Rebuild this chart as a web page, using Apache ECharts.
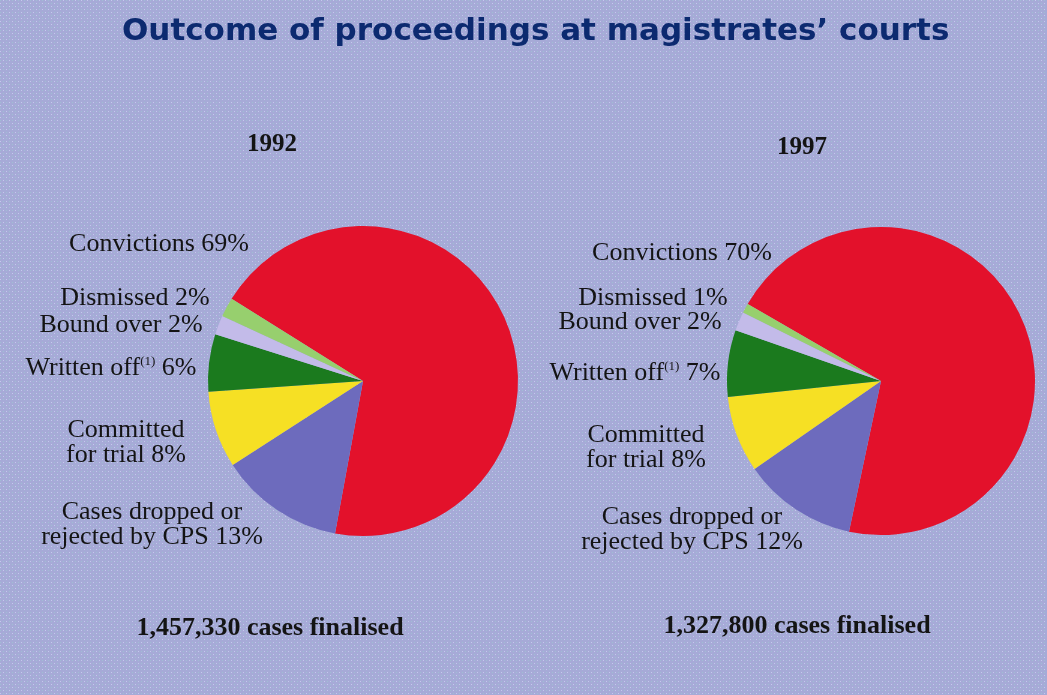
<!DOCTYPE html>
<html>
<head>
<meta charset="utf-8">
<script src="https://cdn.jsdelivr.net/npm/echarts@6/dist/echarts.min.js"></script>
<style>
  html, body { margin: 0; padding: 0; background: #ffffff; }
  #main { width: 1047px; height: 695px; }
</style>
</head>
<body>
<div id="main"></div>
<script>
  // data
  var categories = ['Convictions', 'Cases dropped or\nrejected by CPS', 'Committed\nfor trial', 'Written off', 'Bound over', 'Dismissed']
  var values1992 = [69, 13, 8, 6, 2, 2]
  var values1997 = [70, 12, 8, 7, 2, 1]
  var years = ['1992', '1997']
  var totals = ['1,457,330 cases finalised', '1,327,800 cases finalised']
  var sliceColors = ['#e3112b', '#6d6bbd', '#f6e024', '#1b7a1e', '#c3bbe9', '#97cf6e']

  // where each slice label sits (page px), per pie
  var labelPos1992 = [[159, 244], [152, 525], [126, 443], [111, 368], [121, 325], [135, 298]]
  var labelPos1997 = [[682, 253], [692, 530], [646, 448], [635, 373], [640, 322], [653, 298]]

  // textured lavender background
  function makePattern() {
    var c = document.createElement('canvas')
    c.width = 6
    c.height = 6
    var ctx = c.getContext('2d')
    ctx.fillStyle = '#a6aad7'
    ctx.fillRect(0, 0, 6, 6)
    ctx.fillStyle = '#9fbfd2'
    ctx.fillRect(0, 0, 1, 1)
    ctx.fillRect(3, 3, 1, 1)
    ctx.fillStyle = '#c6c7ee'
    ctx.fillRect(0, 3, 1, 1)
    ctx.fillRect(3, 0, 1, 1)
    return c
  }

  function buildData(vals) {
    return categories.map(function (name, i) {
      return { name: name, value: vals[i], itemStyle: { color: sliceColors[i] } }
    })
  }

  function pieSeries(vals, center, radius, startAngle, pos) {
    return {
      type: 'pie',
      center: center,
      radius: radius,
      startAngle: startAngle,
      clockwise: true,
      avoidLabelOverlap: false,
      silent: true,
      emphasis: { disabled: true },
      data: buildData(vals),
      itemStyle: { borderWidth: 0 },
      labelLine: { show: false },
      label: {
        show: true,
        position: 'outside',
        fontFamily: 'Liberation Serif',
        fontSize: 26,
        lineHeight: 25,
        color: '#141414',
        align: 'center',
        formatter: function (p) {
          if (p.dataIndex === 3) {
            return p.name + '{sup|(1)} ' + p.value + '%'
          }
          return p.name + ' ' + p.value + '%'
        },
        rich: {
          sup: { fontFamily: 'Liberation Serif', fontSize: 13, color: '#141414', verticalAlign: 'top', padding: [0, 0, 10, 0] }
        }
      },
      labelLayout: function (params) {
        var p = pos[params.dataIndex]
        return { x: p[0], y: p[1], align: 'center', verticalAlign: 'middle' }
      }
    }
  }

  var chart = echarts.init(document.getElementById('main'))
  chart.setOption({
    animation: false,
    backgroundColor: { image: makePattern(), repetition: 'repeat' },
    title: {
      text: 'Outcome of proceedings at magistrates\u2019 courts',
      left: 117,
      top: 11,
      textStyle: {
        fontFamily: 'DejaVu Sans',
        fontWeight: 'bold',
        fontSize: 31,
        color: '#0c2a70'
      }
    },
    graphic: [
      { type: 'text', x: 272, y: 145, style: { text: years[0], align: 'center', verticalAlign: 'middle', font: 'bold 25px "Liberation Serif"', fill: '#141414' } },
      { type: 'text', x: 802, y: 148, style: { text: years[1], align: 'center', verticalAlign: 'middle', font: 'bold 25px "Liberation Serif"', fill: '#141414' } },
      { type: 'text', x: 270, y: 628, style: { text: totals[0], align: 'center', verticalAlign: 'middle', font: 'bold 26px "Liberation Serif"', fill: '#141414' } },
      { type: 'text', x: 797, y: 626, style: { text: totals[1], align: 'center', verticalAlign: 'middle', font: 'bold 26px "Liberation Serif"', fill: '#141414' } }
    ],
    series: [
      pieSeries(values1992, [363, 381], 155, 148, labelPos1992),
      pieSeries(values1997, [881, 381], 154, 150, labelPos1997)
    ]
  })
</script>
</body>
</html>
